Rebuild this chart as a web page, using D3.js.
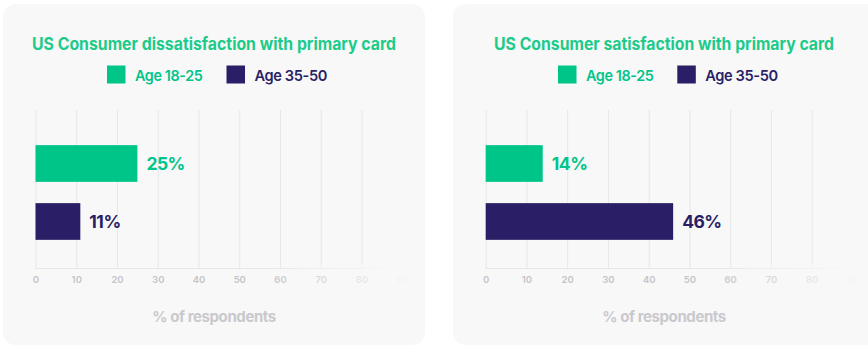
<!DOCTYPE html>
<html><head><meta charset="utf-8">
<script src="https://cdn.jsdelivr.net/npm/d3@7"></script>
<style>
html,body{margin:0;padding:0;background:#fff;}
svg{display:block;font-family:Inter,"Open Sans",sans-serif;}
</style></head>
<body>
<svg id="c" width="868" height="346"></svg>
<script>
const titles = ["US Consumer dissatisfaction with primary card", "US Consumer satisfaction with primary card"];
const categories = ["Age 18-25", "Age 35-50"];
const dissatisfaction = [25, 11];
const satisfaction = [14, 46];
const tickValues = [0,10,20,30,40,50,60,70,80,90];
const gridValues = [0,10,20,30,40,50,60,70,80];
const axisTitle = "% of respondents";

const colors = ["#00c589", "#2a1f66"];
const svg = d3.select("#c");
const defs = svg.append("defs");
const grad = defs.append("linearGradient").attr("id","fade").attr("x1","0").attr("x2","1").attr("y1","0").attr("y2","0");
grad.append("stop").attr("offset","0").attr("stop-color","#f8f8f8").attr("stop-opacity",0);
grad.append("stop").attr("offset","1").attr("stop-color","#f8f8f8").attr("stop-opacity",1);

const panels = [
  {title: titles[0], values: dissatisfaction, cardX: 3, cardW: 422, x0: 35.5, legendX: [107, 226.5]},
  {title: titles[1], values: satisfaction, cardX: 453, cardW: 430, x0: 485.7, legendX: [558, 677.3]}
];

panels.forEach(p => {
  const g = svg.append("g");
  g.append("rect").attr("x", p.cardX).attr("y", 4).attr("width", p.cardW).attr("height", 341)
    .attr("rx", 13).attr("fill", "#f8f8f8");
  const cx = p.cardX + 211;
  const t = g.append("text").attr("x", cx).attr("y", 50).attr("text-anchor","middle")
    .attr("font-size", 17).attr("font-weight", 700).attr("fill", "#1ccb8a").text(p.title);
  const tw = p === panels[0] ? 364 : 340;
  t.attr("textLength", tw).attr("lengthAdjust","spacingAndGlyphs");

  // legend
  categories.forEach((c,i) => {
    g.append("rect").attr("x", p.legendX[i]).attr("y", 65.5).attr("width", 18.5).attr("height", 18)
      .attr("fill", colors[i]);
    g.append("text").attr("x", p.legendX[i] + 28).attr("y", 81).attr("font-size", 15)
      .attr("font-weight", 600).attr("fill", colors[i]).attr("letter-spacing", -0.4)
      .attr("textLength", i===0 ? 67.5 : 72.5).attr("lengthAdjust","spacingAndGlyphs").text(c);
  });

  const x = d3.scaleLinear().domain([0, 90]).range([p.x0, p.x0 + 90*4.075]);
  const y = d3.scaleBand().domain(categories).range([125, 260]).paddingInner(0.367).paddingOuter(0.3475);

  // grid
  g.selectAll(".grid").data(gridValues).join("line")
    .attr("x1", d => x(d)+0.5).attr("x2", d => x(d)+0.5).attr("y1", 110).attr("y2", 268)
    .attr("stroke", "#e7e7e7").attr("stroke-width", 1);

  // axis
  const axis = d3.axisBottom(x).tickValues(tickValues).tickSize(0).tickPadding(8);
  const ag = g.append("g").attr("transform", "translate(0,268)").call(axis);
  ag.select(".domain").attr("stroke", "#e7e7e7").attr("d", `M${x(0)},0.5H${x(90)}`);
  ag.selectAll("text").attr("font-size", 9.5).attr("fill", "#c4c4c8").attr("font-weight", 600)
    .attr("font-family", "Inter, sans-serif");
  // fade overlay on the right
  g.append("rect").attr("x", x(55)).attr("y", 264).attr("width", x(92) - x(55)).attr("height", 26)
    .attr("fill", "url(#fade)");

  // bars
  g.selectAll(".bar").data(p.values).join("rect")
    .attr("x", x(0)).attr("y", (d,i) => y(categories[i]))
    .attr("width", d => x(d) - x(0)).attr("height", y.bandwidth())
    .attr("fill", (d,i) => colors[i]);
  g.selectAll(".lbl").data(p.values).join("text")
    .attr("x", d => x(d) + 9).attr("y", (d,i) => y(categories[i]) + y.bandwidth()/2 + 6.5)
    .attr("font-size", 17.5).attr("font-weight", 700).attr("fill", (d,i) => colors[i])
    .attr("letter-spacing", -0.5).text(d => d + "%");

  g.append("text").attr("x", cx).attr("y", 322).attr("text-anchor","middle")
    .attr("font-size", 15).attr("font-weight", 700).attr("fill", "#c9c9cd")
    .attr("letter-spacing", -0.4).text(axisTitle);
});
</script>
</body></html>
